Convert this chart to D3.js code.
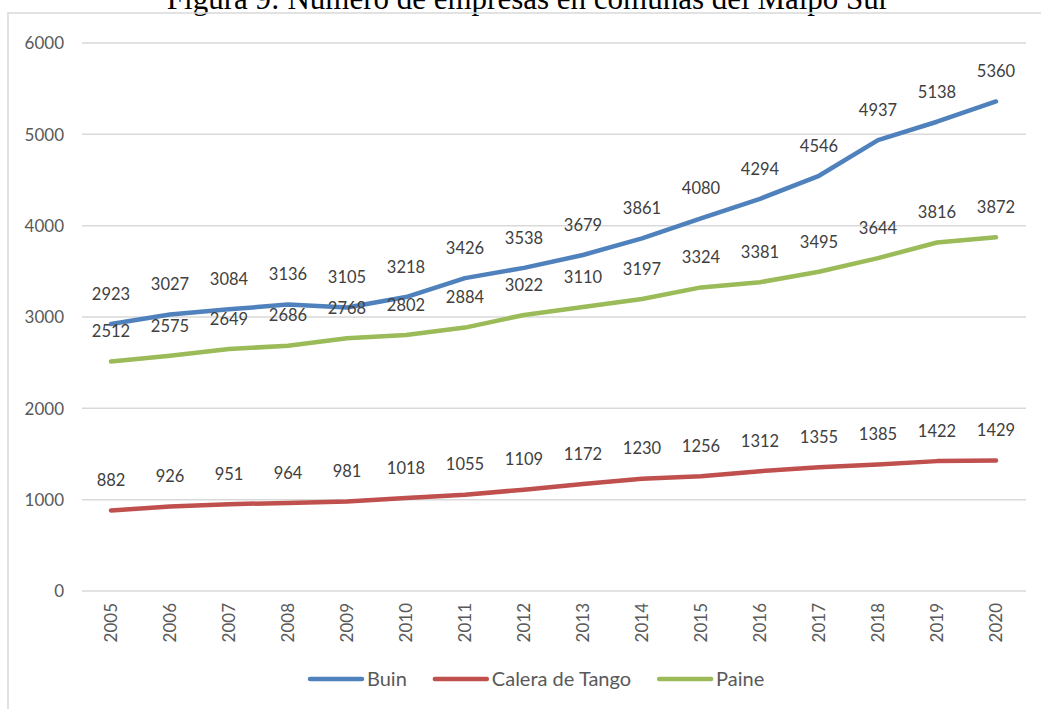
<!DOCTYPE html>
<html><head><meta charset="utf-8">
<script src="https://cdn.jsdelivr.net/npm/d3@7"></script>
<style>body{margin:0;background:#fff;} svg{display:block;}</style>
</head><body>
<svg id="c" width="1041" height="709"></svg>
<script>
const years = ["2005","2006","2007","2008","2009","2010","2011","2012","2013","2014","2015","2016","2017","2018","2019","2020"];
const buin = [2923,3027,3084,3136,3105,3218,3426,3538,3679,3861,4080,4294,4546,4937,5138,5360];
const calera = [882,926,951,964,981,1018,1055,1109,1172,1230,1256,1312,1355,1385,1422,1429];
const paine = [2512,2575,2649,2686,2768,2802,2884,3022,3110,3197,3324,3381,3495,3644,3816,3872];
const yTicks = [0,1000,2000,3000,4000,5000,6000];
const seriesNames = ["Buin","Calera de Tango","Paine"];
const title = "Figura 9: Número de empresas en comunas del Maipo Sur";

const colors = ["#4F81BD","#C0504D","#9BBB59"];
const series = [buin, calera, paine];
const font = "Lato, 'Open Sans', sans-serif";
const svg = d3.select("#c");

// title
svg.append("text").attr("x",528).attr("y",9).attr("text-anchor","middle")
  .attr("font-family","'Liberation Serif', 'Times New Roman', serif").attr("font-size",31)
  .attr("fill","#000").text(title);

// frame
svg.append("rect").attr("x",8).attr("y",13).attr("width",1060).attr("height",720)
  .attr("fill","none").attr("stroke","#d9d9d9").attr("stroke-width",1.5);

const x = d3.scalePoint().domain(years).range([111,996]);
const y = d3.scaleLinear().domain([0,6000]).range([591,43]);

// gridlines
svg.append("g").selectAll("line").data(yTicks).join("line")
  .attr("x1",82).attr("x2",1026).attr("y1",d=>y(d)).attr("y2",d=>y(d))
  .attr("stroke","#d9d9d9").attr("stroke-width",1.5);

// y axis labels
const yAxis = d3.axisLeft(y).tickValues(yTicks).tickFormat(d3.format("d")).tickSize(0).tickPadding(0);
const gy = svg.append("g").attr("transform","translate(64,0)").call(yAxis);
gy.select(".domain").remove();
gy.selectAll("text").attr("font-family",font).attr("font-size",17).attr("fill","#595959").attr("dy","0.35em");

// x axis labels
const xAxis = d3.axisBottom(x).tickSize(0).tickPadding(0);
const gx = svg.append("g").attr("transform","translate(0,603)").call(xAxis);
gx.select(".domain").remove();
gx.selectAll(".tick text").each(function(){
  d3.select(this).attr("x",0).attr("y",0).attr("dy","0.35em").attr("transform","rotate(-90)")
    .attr("text-anchor","end").attr("font-family",font).attr("font-size",17).attr("fill","#595959");
});

// lines
const line = d3.line().x((d,i)=>x(years[i])).y(d=>y(d));
series.forEach((s,k)=>{
  svg.append("path").datum(s).attr("d",line).attr("fill","none")
    .attr("stroke",colors[k]).attr("stroke-width",4.5).attr("stroke-linejoin","round").attr("stroke-linecap","round");
});
// labels
series.forEach((s,k)=>{
  svg.append("g").selectAll("text").data(s).join("text")
    .attr("x",(d,i)=>x(years[i])).attr("y",d=>y(d)-30).attr("dy","0.35em")
    .attr("text-anchor","middle").attr("font-family",font).attr("font-size",16.5).attr("fill","#404040")
    .text(d=>d);
});

// legend
const lg = svg.append("g");
let lx = 308; const ly = 679;
seriesNames.forEach((n,k)=>{
  lg.append("line").attr("x1",lx+2).attr("x2",lx+54).attr("y1",ly).attr("y2",ly)
    .attr("stroke",colors[k]).attr("stroke-width",4.5).attr("stroke-linecap","round");
  const t = lg.append("text").attr("x",lx+59).attr("y",ly).attr("dy","0.35em")
    .attr("font-family",font).attr("font-size",20).attr("fill","#595959").text(n);
  const w = t.node().getComputedTextLength();
  lx = lx + 59 + w + 26;
});
</script>
</body></html>
